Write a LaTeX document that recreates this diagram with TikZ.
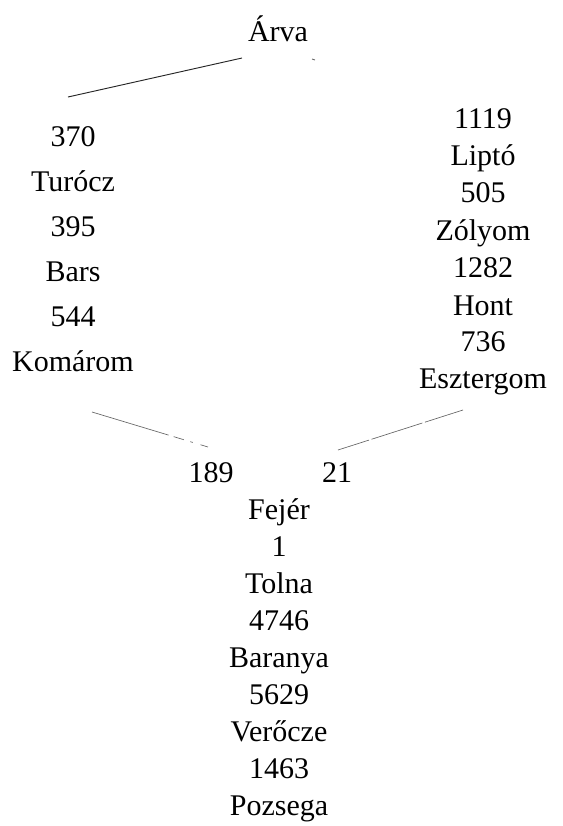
\documentclass[tikz,border=0pt]{standalone}
\usepackage{fontspec}
\setmainfont{Liberation Serif}
\begin{document}
\begin{tikzpicture}[x=0.75pt,y=-0.75pt,
  lbl/.style={anchor=base,inner sep=0pt,font=\fontsize{22.5}{27}\selectfont},
  link/.style={line width=0.7pt,black!85}]
\useasboundingbox (0,0) rectangle (562,826);
% top
\node[lbl] (arva) at (278,41) {Árva};
% left column
\node[lbl] (n370) at (73,146) {370};
\node[lbl] (turocz) at (73,191) {Turócz};
\node[lbl] (n395) at (73,236) {395};
\node[lbl] (bars) at (73,281) {Bars};
\node[lbl] (n544) at (73,326) {544};
\node[lbl] (komarom) at (73,371) {Komárom};
% right column
\node[lbl] (n1119) at (483,128) {1119};
\node[lbl] (lipto) at (483,165) {Liptó};
\node[lbl] (n505) at (483,202) {505};
\node[lbl] (zolyom) at (483,240) {Zólyom};
\node[lbl] (n1282) at (483,277) {1282};
\node[lbl] (hont) at (483,315) {Hont};
\node[lbl] (n736) at (483,351) {736};
\node[lbl] (esztergom) at (483,388) {Esztergom};
% bottom
\node[lbl] (n189) at (211,482) {189};
\node[lbl] (n21) at (337,482) {21};
\node[lbl] (fejer) at (279,519) {Fejér};
\node[lbl] (n1) at (279,556) {1};
\node[lbl] (tolna) at (279,593) {Tolna};
\node[lbl] (n4746) at (279,630) {4746};
\node[lbl] (baranya) at (279,667) {Baranya};
\node[lbl] (n5629) at (279,704) {5629};
\node[lbl] (verocze) at (279,741) {Verőcze};
\node[lbl] (n1463) at (279,778) {1463};
\node[lbl] (pozsega) at (279,815) {Pozsega};
% connectors
\coordinate (tl1) at (68,97);
\coordinate (tl2) at (242,58);
\coordinate (tr1) at (312,59);
\coordinate (tr2) at (315,60);
\draw[link] (tl1) -- (tl2);
\draw[link,black!60] (tr1) -- (tr2);
\coordinate (bl1) at (92,412);
\coordinate (bl2) at (208,447);
\coordinate (br1) at (463,410);
\coordinate (br2) at (338,450);
\draw[link,black!60,line width=0.5pt,dash pattern=on 60pt off 4pt on 8pt off 5pt on 2pt off 6pt] (bl1) -- (bl2);
\draw[link,black!60,line width=0.5pt,dash pattern=on 30pt off 2pt on 40pt off 2pt] (br1) -- (br2);
\end{tikzpicture}
\end{document}
